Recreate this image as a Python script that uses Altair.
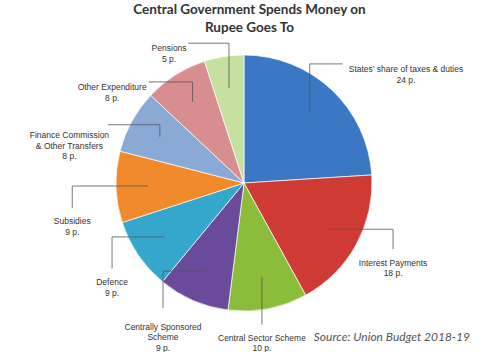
import math
import altair as alt
import pandas as pd

# ---- data ----
categories = [
    "States’ share of taxes & duties",
    "Interest Payments",
    "Central Sector Scheme",
    "Centrally Sponsored Scheme",
    "Defence",
    "Subsidies",
    "Finance Commission & Other Transfers",
    "Other Expenditure",
    "Pensions",
]
label_text = [
    "States’ share of taxes & duties",
    "Interest Payments",
    "Central Sector Scheme",
    "Centrally Sponsored\nScheme",
    "Defence",
    "Subsidies",
    "Finance Commission\n& Other Transfers",
    "Other Expenditure",
    "Pensions",
]
values = [24, 18, 10, 9, 9, 9, 8, 8, 5]
colors = ["#3a78c4", "#cf3a35", "#8bbd3a", "#6a4a9a", "#35a6cc",
          "#f08a2a", "#8aaad6", "#d88e8e", "#c6e0a0"]

# ---- label layout (styling): angular nudge from slice middle (deg), label radius (px)
label_nudge = [11.7, -0.7, 4.2, 6.0, -2.7, -10.8, -13.5, -21.6, -20.1]
label_radius = [198, 169, 156, 165, 165, 176, 181, 163, 154]

R = 128
FS = 8.5
LH = 10.5
ANCHOR_R = 0.75 * R
total = sum(values)
rows, segs = [], []
cum = 0.0
for i, (c, lt, v) in enumerate(zip(categories, label_text, values)):
    mid = (cum + v / 2) / total * 360.0
    cum += v
    la = math.radians(mid + label_nudge[i])
    ma = math.radians(mid)
    lr = label_radius[i]
    text = f"{lt}\n{v} p."
    nlines = text.count("\n") + 1
    lx, ly = lr * math.sin(la), lr * math.cos(la)
    rows.append(dict(idx=i, cat=c, value=v, text=text, lx=lx, ly=ly))
    # elbow leader: anchor inside slice -> corner -> next to label
    ax, ay = ANCHOR_R * math.sin(ma), ANCHOR_R * math.cos(ma)
    top_y = ly + (nlines - 1) * LH / 2  # first-line centre (y up)
    if ly > 0:  # labels above centre: leader ends beside the first line
        half_w = len(lt.split("\n")[0]) * 0.45 * FS / 2
        ex = lx - half_w - 4 if lx > ax else lx + half_w + 4
        ey = top_y
        cx_, cy_ = ax, ey
    else:       # labels below centre: leader ends above the label
        ex = lx
        ey = top_y + LH / 2 + 3
        cx_, cy_ = ex, ay
    segs.append(dict(x=ax, y=ay, x2=cx_, y2=cy_))
    segs.append(dict(x=cx_, y=cy_, x2=ex, y2=ey))
df = pd.DataFrame(rows)
seg_df = pd.DataFrame(segs)

W, H, TOP = 485, 312, 40
CX, CY = 244, 143  # pie centre inside plot area
xs = alt.Scale(domain=[-CX, W - CX], nice=False, zero=False)
ys = alt.Scale(domain=[-(H - CY), CY], nice=False, zero=False)

base = alt.Chart(df)

pie = base.mark_arc(outerRadius=R, stroke="white", strokeWidth=0.7).encode(
    theta=alt.Theta("value:Q", stack=True, scale=alt.Scale(domain=[0, 100])),
    order=alt.Order("idx:Q"),
    color=alt.Color("cat:N", scale=alt.Scale(domain=categories, range=colors), legend=None),
    x=alt.value(CX),
    y=alt.value(CY),
)

leaders = alt.Chart(seg_df).mark_rule(color="#555555", strokeWidth=0.8).encode(
    x=alt.X("x:Q", scale=xs, axis=None),
    y=alt.Y("y:Q", scale=ys, axis=None),
    x2="x2:Q",
    y2="y2:Q",
)

labels = base.mark_text(
    font="Liberation Sans", fontSize=FS, lineHeight=LH, color="#333333",
    align="center", baseline="middle", lineBreak="\n",
).encode(
    x=alt.X("lx:Q", scale=xs, axis=None),
    y=alt.Y("ly:Q", scale=ys, axis=None),
    text="text:N",
)

source = alt.Chart(pd.DataFrame({"t": ["Source: Union Budget 2018-19"]})).mark_text(
    font="Lato", fontSize=12, fontStyle="italic", color="#555555",
    align="right", baseline="middle",
).encode(x=alt.value(470), y=alt.value(297), text="t:N")

chart = alt.layer(pie, leaders, labels, source).properties(
    width=W, height=H,
    autosize=alt.AutoSizeParams(type="none"),
    padding={"top": TOP, "left": 0, "right": 0, "bottom": 0},
    title=alt.TitleParams(
        ["Central Government Spends Money on", "Rupee Goes To"],
        font="Lato", fontSize=13.5, fontWeight="bold", color="#333333",
        lineHeight=18, anchor="middle", offset=6, dx=7,
    ),
).configure_view(stroke=None)

chart.save("out.html", embed_options={"renderer": "svg", "actions": False})
